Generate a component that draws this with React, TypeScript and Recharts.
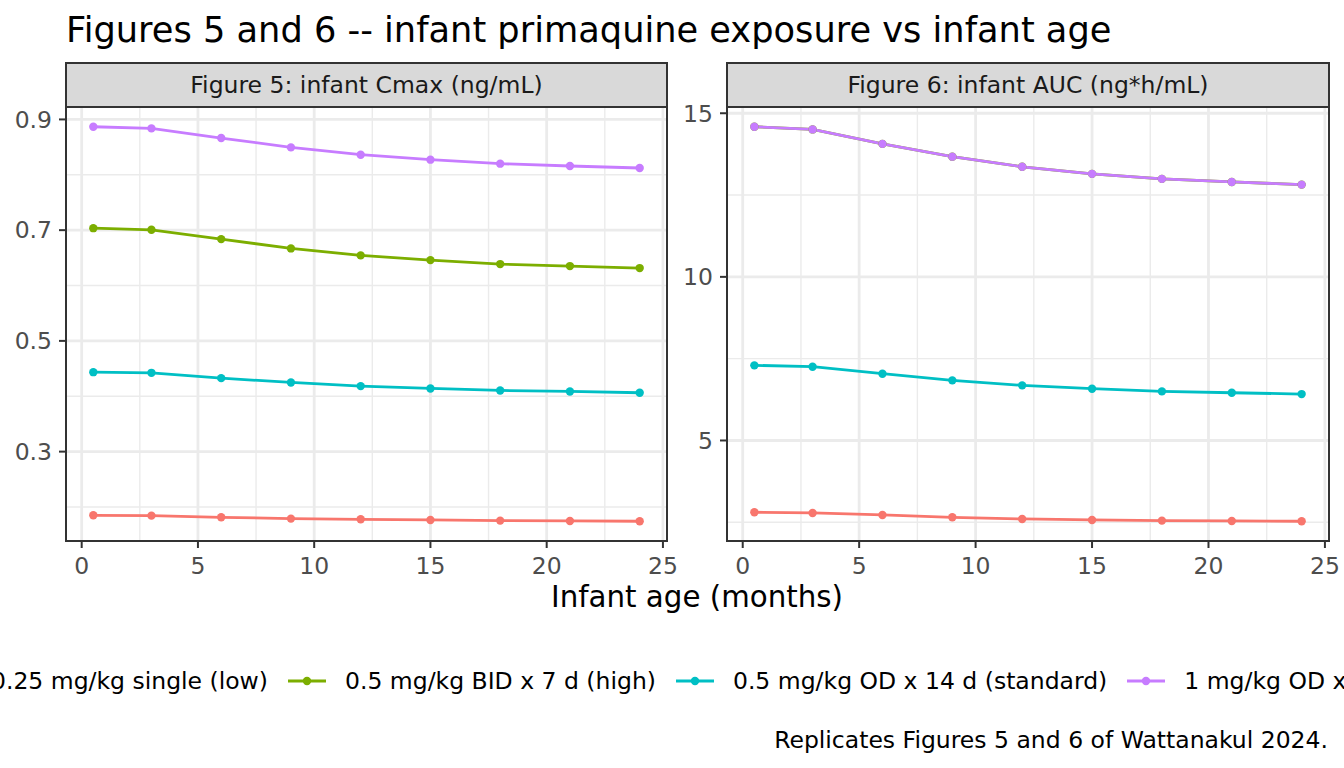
import React from 'react';
import { LineChart, Line, XAxis, YAxis, CartesianGrid } from 'recharts';

// infant age (months)
const AGES = [0.5, 3, 6, 9, 12, 15, 18, 21, 24];

const SERIES_NAMES = [
  '0.25 mg/kg single (low)',
  '0.5 mg/kg BID x 7 d (high)',
  '0.5 mg/kg OD x 14 d (standard)',
  '1 mg/kg OD x 7 d',
];
const COLORS = ['#F8766D', '#7CAE00', '#00BFC4', '#C77CFF'];

// Figure 5: Cmax (ng/mL)
const CMAX_LOW = [0.185, 0.1844, 0.1814, 0.179, 0.1778, 0.1766, 0.1754, 0.1748, 0.1742];
const CMAX_HIGH = [0.7036, 0.7006, 0.6838, 0.667, 0.6544, 0.6459, 0.6387, 0.6351, 0.6315];
const CMAX_STANDARD = [0.4435, 0.4423, 0.4327, 0.4249, 0.4183, 0.4141, 0.4105, 0.4087, 0.4063];
const CMAX_RADICAL = [0.8868, 0.8838, 0.8664, 0.8495, 0.8363, 0.8273, 0.8201, 0.8159, 0.8123];

// Figure 6: AUC (ng*h/mL)
const AUC_LOW = [2.806, 2.786, 2.724, 2.653, 2.602, 2.571, 2.551, 2.541, 2.531];
const AUC_HIGH = [14.588, 14.506, 14.064, 13.673, 13.364, 13.148, 12.994, 12.901, 12.819];
const AUC_STANDARD = [7.296, 7.255, 7.041, 6.837, 6.684, 6.582, 6.5, 6.459, 6.418];
const AUC_RADICAL = [14.588, 14.506, 14.064, 13.673, 13.364, 13.148, 12.994, 12.901, 12.819];

const X_TICKS = [0, 5, 10, 15, 20, 25];
const X_MINOR = [2.5, 7.5, 12.5, 17.5, 22.5];
const CMAX_TICKS = [0.3, 0.5, 0.7, 0.9];
const CMAX_MINOR = [0.2, 0.4, 0.6, 0.8];
const AUC_TICKS = [5, 10, 15];
const AUC_MINOR = [2.5, 7.5, 12.5];

const FONT = '"DejaVu Sans", Verdana, sans-serif';
const SMALL = 23.5;

function buildRows(series: number[][]) {
  return AGES.map((age, i) => {
    const row: Record<string, number> = { age };
    series.forEach((s, k) => {
      row['s' + k] = s[i];
    });
    return row;
  });
}

// ggplot-style expanded limits (5% each side)
function expand(values: number[]): [number, number] {
  const min = Math.min(...values);
  const max = Math.max(...values);
  const pad = (max - min) * 0.05;
  return [min - pad, max + pad];
}

const X_DOMAIN = expand(AGES);

interface PanelProps {
  left: number;
  title: string;
  series: number[][];
  ticks: number[];
  minor: number[];
  yWidth: number;
  rightMargin: number;
}

function Panel({ left, title, series, ticks, minor, yWidth, rightMargin }: PanelProps) {
  const rows = buildRows(series);
  const yDomain = expand(series.flat());
  const plotLeft = left + yWidth;
  const plotWidth = 680 - yWidth - rightMargin;

  return (
    <>
      <div
        style={{
          position: 'absolute',
          left: plotLeft - 1,
          top: 62,
          width: plotWidth + 2,
          height: 46,
          boxSizing: 'border-box',
          border: '2px solid #333333',
          background: '#D9D9D9',
          color: '#1A1A1A',
          fontSize: SMALL,
          lineHeight: '42px',
          textAlign: 'center',
          whiteSpace: 'nowrap',
        }}
      >
        {title}
      </div>
      <div style={{ position: 'absolute', left, top: 97 }}>
        <LineChart
          width={680}
          height={492}
          data={rows}
          margin={{ top: 10, right: rightMargin, bottom: 0, left: 0 }}
        >
          <CartesianGrid
            horizontalValues={minor}
            verticalValues={X_MINOR}
            stroke="#EBEBEB"
            strokeWidth={1.4}
          />
          <CartesianGrid
            horizontalValues={ticks}
            verticalValues={X_TICKS}
            stroke="#EBEBEB"
            strokeWidth={2.8}
          />
          <XAxis
            dataKey="age"
            type="number"
            domain={X_DOMAIN}
            ticks={X_TICKS}
            allowDataOverflow
            height={48}
            axisLine={false}
            tickSize={7}
            tickMargin={9}
            tickLine={{ stroke: '#333333', strokeWidth: 2 }}
            tick={{ fill: '#4D4D4D', fontSize: SMALL, fontFamily: FONT }}
          />
          <YAxis
            type="number"
            domain={yDomain}
            ticks={ticks}
            allowDataOverflow
            width={yWidth}
            axisLine={false}
            tickSize={7}
            tickMargin={7}
            tickLine={{ stroke: '#333333', strokeWidth: 2 }}
            tick={{ fill: '#4D4D4D', fontSize: SMALL, fontFamily: FONT }}
          />
          {series.map((_, k) => (
            <Line
              key={k}
              type="linear"
              dataKey={'s' + k}
              stroke={COLORS[k]}
              strokeWidth={2.8}
              dot={{ r: 4.2, fill: COLORS[k], stroke: 'none' }}
              activeDot={false}
              isAnimationActive={false}
            />
          ))}
        </LineChart>
      </div>
      <div
        style={{
          position: 'absolute',
          left: plotLeft - 1,
          top: 106,
          width: plotWidth + 2,
          height: 436,
          boxSizing: 'border-box',
          border: '2px solid #333333',
          pointerEvents: 'none',
        }}
      />
    </>
  );
}

function LegendItem({ index }: { index: number }) {
  return (
    <div style={{ display: 'flex', alignItems: 'center', marginRight: 20 }}>
      <svg width={38} height={38}>
        <line x1={0} y1={19} x2={38} y2={19} stroke={COLORS[index]} strokeWidth={2.8} />
        <circle cx={19} cy={19} r={4.2} fill={COLORS[index]} />
      </svg>
      <span style={{ marginLeft: 19, whiteSpace: 'nowrap' }}>{SERIES_NAMES[index]}</span>
    </div>
  );
}

export default function App() {
  return (
    <div
      style={{
        position: 'absolute',
        left: 0,
        top: 0,
        width: 1344,
        height: 768,
        background: '#FFFFFF',
        overflow: 'hidden',
        fontFamily: FONT,
      }}
    >
      <div
        style={{
          position: 'absolute',
          left: 66,
          top: 12,
          fontSize: 35.2,
          lineHeight: '35px',
          color: '#000000',
          whiteSpace: 'nowrap',
        }}
      >
        Figures 5 and 6 -- infant primaquine exposure vs infant age
      </div>

      <Panel
        left={0}
        title="Figure 5: infant Cmax (ng/mL)"
        series={[CMAX_LOW, CMAX_HIGH, CMAX_STANDARD, CMAX_RADICAL]}
        ticks={CMAX_TICKS}
        minor={CMAX_MINOR}
        yWidth={66}
        rightMargin={13}
      />
      <Panel
        left={660}
        title="Figure 6: infant AUC (ng*h/mL)"
        series={[AUC_LOW, AUC_HIGH, AUC_STANDARD, AUC_RADICAL]}
        ticks={AUC_TICKS}
        minor={AUC_MINOR}
        yWidth={67}
        rightMargin={11}
      />

      <div
        style={{
          position: 'absolute',
          left: 0,
          width: 1394,
          top: 582,
          fontSize: 29.3,
          lineHeight: '30px',
          textAlign: 'center',
          color: '#000000',
        }}
      >
        Infant age (months)
      </div>

      {/* legend: first entry runs off the left edge, last off the right */}
      <div
        style={{
          position: 'absolute',
          right: 1344 - 288,
          top: 662,
          display: 'flex',
          fontSize: SMALL,
          color: '#000000',
        }}
      >
        <LegendItem index={0} />
      </div>
      <div
        style={{
          position: 'absolute',
          left: 288,
          top: 662,
          display: 'flex',
          fontSize: SMALL,
          color: '#000000',
        }}
      >
        <LegendItem index={1} />
        <LegendItem index={2} />
        <LegendItem index={3} />
      </div>

      <div
        style={{
          position: 'absolute',
          right: 16,
          top: 727,
          fontSize: SMALL,
          lineHeight: '26px',
          color: '#000000',
          whiteSpace: 'nowrap',
        }}
      >
        Replicates Figures 5 and 6 of Wattanakul 2024.
      </div>
    </div>
  );
}
